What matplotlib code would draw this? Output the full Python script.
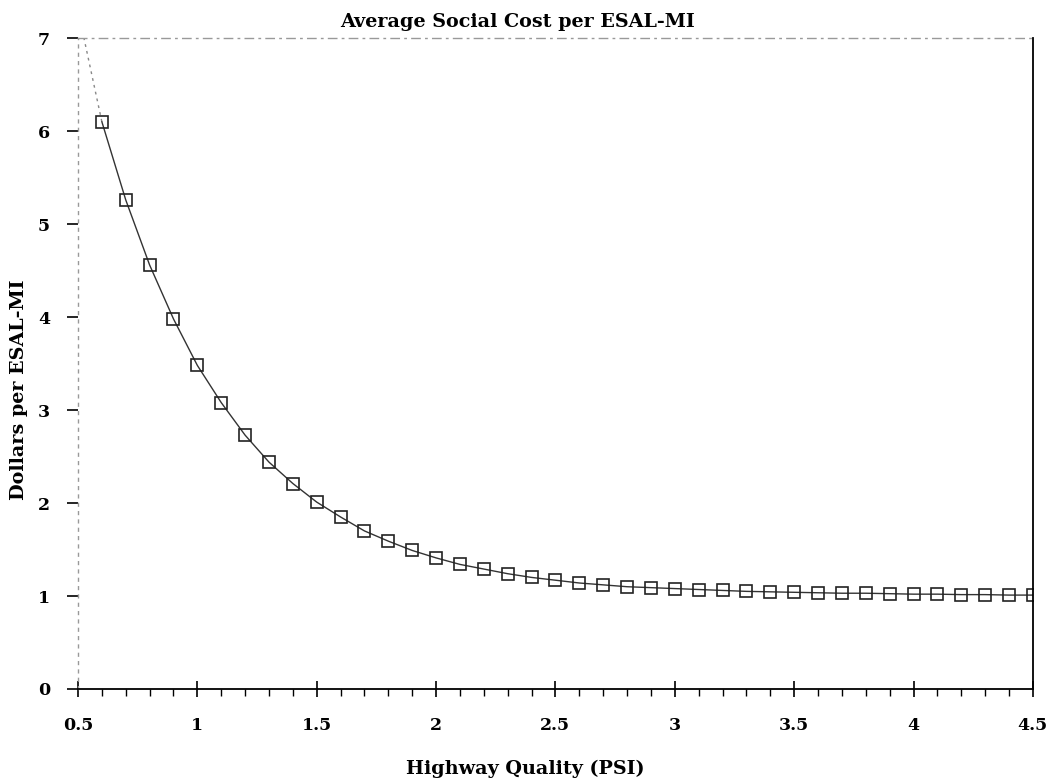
import matplotlib.pyplot as plt
from matplotlib.ticker import MultipleLocator

plt.rcParams["font.family"] = ["DejaVu Serif"]

# highway quality (PSI) and average social cost ($ per ESAL-mile)
psi = [0.5, 0.6, 0.7, 0.8, 0.9, 1.0, 1.1, 1.2, 1.3, 1.4, 1.5, 1.6, 1.7, 1.8, 1.9,
       2.0, 2.1, 2.2, 2.3, 2.4, 2.5, 2.6, 2.7, 2.8, 2.9, 3.0, 3.1, 3.2, 3.3, 3.4,
       3.5, 3.6, 3.7, 3.8, 3.9, 4.0, 4.1, 4.2, 4.3, 4.4, 4.5]
cost = [7.3, 6.10, 5.26, 4.56, 3.98, 3.48, 3.08, 2.73, 2.44, 2.21, 2.01, 1.85, 1.70,
        1.59, 1.49, 1.41, 1.34, 1.29, 1.24, 1.20, 1.17, 1.14, 1.12, 1.10, 1.09,
        1.08, 1.07, 1.06, 1.05, 1.045, 1.04, 1.035, 1.03, 1.03, 1.025, 1.02,
        1.02, 1.015, 1.015, 1.01, 1.01]

fig = plt.figure(figsize=(10.47, 7.78), dpi=100)
ax = fig.add_axes([0.0745, 0.1144, 0.912, 0.8366])

ax.plot(psi[:2], cost[:2], color="#888888", lw=1.0, ls=(0, (2, 3)))
ax.plot(psi[1:], cost[1:], color="#333333", lw=1.0, marker="s", markersize=8,
        markerfacecolor="none", markeredgecolor="#222222", markeredgewidth=1.2)

ax.set_xlim(0.5, 4.5)
ax.set_ylim(0, 7)
ax.xaxis.set_major_locator(MultipleLocator(0.5))
ax.xaxis.set_minor_locator(MultipleLocator(0.1))
ax.yaxis.set_major_locator(MultipleLocator(1))
ax.xaxis.set_major_formatter(plt.FuncFormatter(lambda v, p: f"{v:g}"))

ax.tick_params(axis="x", which="major", direction="inout", length=12, width=1.2,
               labelsize=12.5, pad=14)
ax.tick_params(axis="x", which="minor", direction="out", length=5, width=1.0)
ax.tick_params(axis="y", which="major", direction="out", length=8, width=1.2,
               labelsize=12.5, pad=12)
for lbl in ax.get_xticklabels() + ax.get_yticklabels():
    lbl.set_fontweight("bold")

ax.spines["top"].set_color("#999999")
ax.spines["top"].set_linestyle((0, (6, 4, 1, 4)))
ax.spines["top"].set_linewidth(1.0)
ax.spines["left"].set_color("#999999")
ax.spines["left"].set_linestyle((0, (2, 4)))
ax.spines["left"].set_linewidth(1.0)
ax.spines["right"].set_linewidth(1.3)
ax.spines["bottom"].set_linewidth(1.3)

ax.set_title("Average Social Cost per ESAL-MI", fontsize=13.8, fontweight="bold", pad=8)
ax.title.set_x(0.46)
ax.set_xlabel("Highway Quality (PSI)", fontsize=13.8, fontweight="bold")
ax.set_ylabel("Dollars per ESAL-MI", fontsize=13.8, fontweight="bold")
ax.xaxis.set_label_coords(0.468, -0.108)
ax.yaxis.set_label_coords(-0.052, 0.46)

fig.savefig("out.png", dpi=100)
